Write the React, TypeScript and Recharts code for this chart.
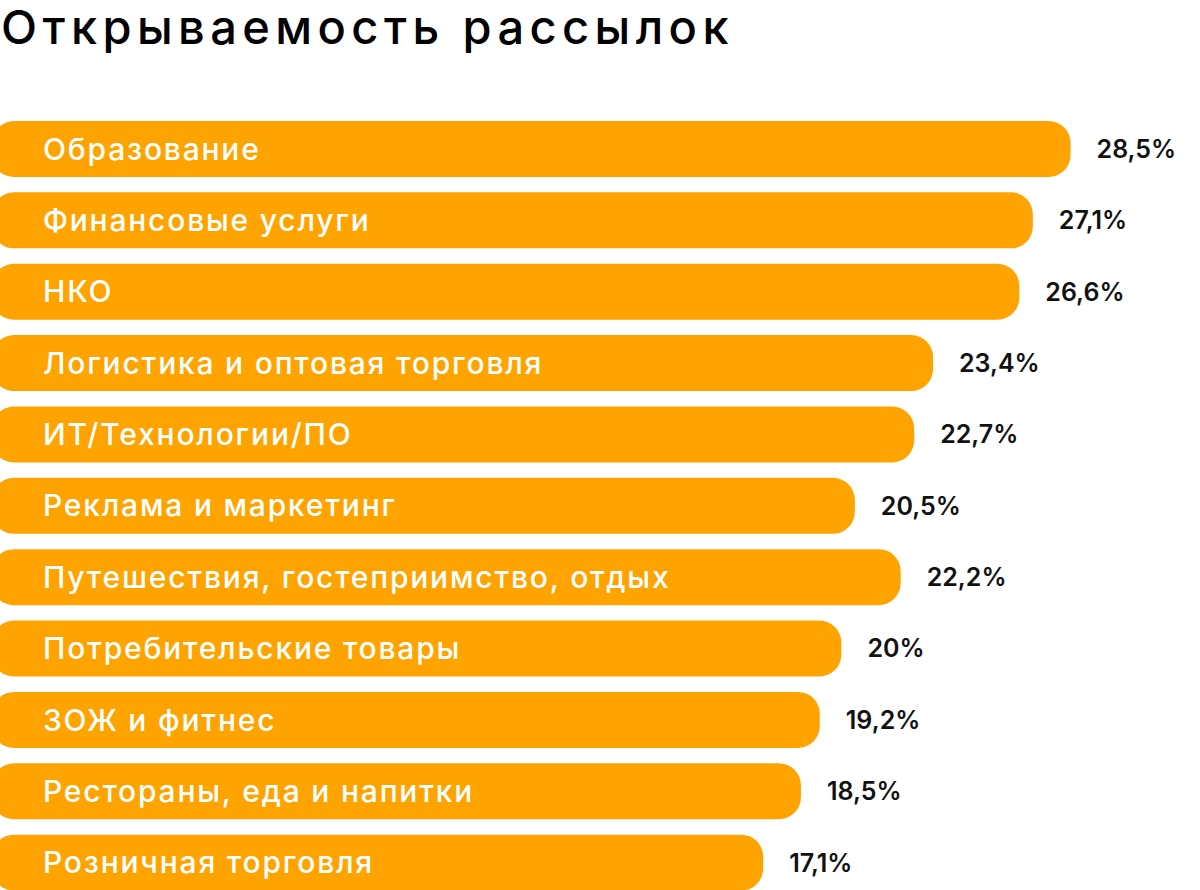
import { Bar, BarChart, LabelList, XAxis, YAxis } from "recharts";

const categories = [
  "Образование",
  "Финансовые услуги",
  "НКО",
  "Логистика и оптовая торговля",
  "ИТ/Технологии/ПО",
  "Реклама и маркетинг",
  "Путешествия, гостеприимство, отдых",
  "Потребительские товары",
  "ЗОЖ и фитнес",
  "Рестораны, еда и напитки",
  "Розничная торговля",
];

const openRates = [28.5, 27.1, 26.6, 23.4, 22.7, 20.5, 22.2, 20, 19.2, 18.5, 17.1];

// axis domain; bars are drawn as ranges from the left edge of the axis
const AXIS_MIN = -11.5;
const AXIS_MAX = 33.3;

const data = categories.map((name, i) => ({
  name,
  value: openRates[i],
  range: [AXIS_MIN, openRates[i]],
  label: `${String(openRates[i]).replace(".", ",")}%`,
}));

const FONT = "Inter, 'Noto Sans', sans-serif";
const ORANGE = "#FFA300";

export default function App() {
  return (
    <div
      style={{
        position: "absolute",
        left: 0,
        top: 0,
        width: 1200,
        height: 890,
        overflow: "hidden",
        background: "#fff",
      }}
    >
      <svg width={1200} height={70} style={{ position: "absolute", left: 0, top: 0 }}>
        <text
          x={1}
          y={44}
          fontFamily={FONT}
          fontSize={47}
          fontWeight={500}
          letterSpacing={5.4}
          fill="#000"
        >
          Открываемость рассылок
        </text>
      </svg>
      <div style={{ position: "absolute", left: -8, top: 0 }}>
        <BarChart
          width={1208}
          height={898}
          data={data}
          layout="vertical"
          margin={{ top: 113, right: 0, bottom: 0, left: 0 }}
          barSize={56}
        >
          <XAxis type="number" domain={[AXIS_MIN, AXIS_MAX]} hide allowDataOverflow />
          <YAxis type="category" dataKey="name" hide />
          <Bar dataKey="range" fill={ORANGE} radius={22} isAnimationActive={false}>
            <LabelList
              dataKey="name"
              position="insideLeft"
              offset={51}
              fill="#fff"
              fontFamily={FONT}
              fontSize={30}
              fontWeight={500}
              letterSpacing={1.8}
            />
            <LabelList
              dataKey="label"
              position="right"
              offset={26}
              fill="#111"
              fontFamily={FONT}
              fontSize={25}
              fontWeight={600}
            />
          </Bar>
        </BarChart>
      </div>
    </div>
  );
}
